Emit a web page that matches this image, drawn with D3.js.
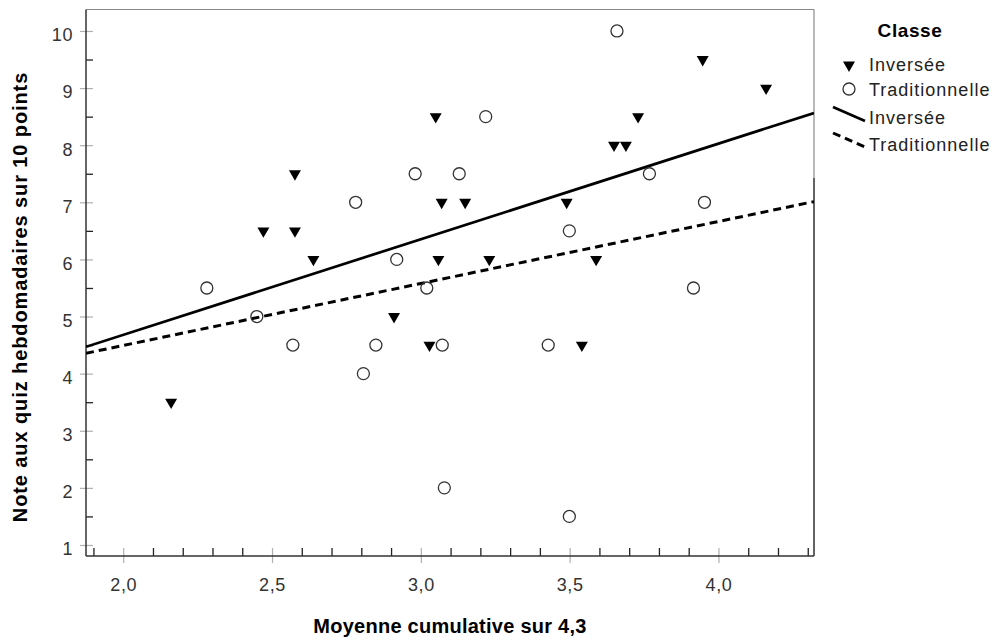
<!DOCTYPE html>
<html lang="fr">
    <head>
        <meta charset="utf-8">
        <title>Nuage de points</title>
        <style>
          body {
            margin: 0;
            background: white;
          }
          text {
            font-family: "Liberation Sans", Arial, sans-serif;
          }
          .tick-label {
            font-size: 18px;
            fill: #333;
            letter-spacing: 0.6px;
          }
          .axis-title {
            font-size: 20px;
            font-weight: bold;
            fill: black;
          }
          .legend text {
            font-size: 18px;
            fill: #222;
            letter-spacing: 1px;
          }
        </style>
        <script src="https://d3js.org/d3.v7.min.js"></script>
    </head>
    <body>
        <script type="text/javascript">
          var w=992;
          var h=640;

          // donnees
          var groupes=['Inversée','Traditionnelle'];

          var inverseeX=[2.161,2.471,2.577,2.577,2.639,2.910,3.029,3.050,3.070,3.059,3.149,3.230,3.490,3.541,3.589,3.649,3.689,3.730,3.947,4.160];
          var inverseeY=[3.5,6.5,7.5,6.5,6.0,5.0,4.5,8.5,7.0,6.0,7.0,6.0,7.0,4.5,6.0,8.0,8.0,8.5,9.5,9.0];

          var tradX=[2.281,2.449,2.570,2.781,2.807,2.849,2.919,2.981,3.020,3.072,3.079,3.129,3.218,3.428,3.499,3.499,3.659,3.768,3.916,3.953];
          var tradY=[5.5,5.0,4.5,7.0,4.0,4.5,6.0,7.5,5.5,4.5,2.0,7.5,8.5,4.5,6.5,1.5,10.0,7.5,5.5,7.0];

          // droites d'ajustement (ordonnee a l'origine, pente) : Inversée, Traditionnelle
          var intercepts=[1.331,2.322];
          var slopes=[1.674,1.0855];

          var xMajor=[2.0,2.5,3.0,3.5,4.0];
          var xMinor=[1.9,2.1,2.2,2.3,2.4,2.6,2.7,2.8,2.9,3.1,3.2,3.3,3.4,3.6,3.7,3.8,3.9,4.1,4.2,4.3];
          var yMajor=[1,2,3,4,5,6,7,8,9,10];
          var yMinor=[1.5,2.5,3.5,4.5,5.5,6.5,7.5,8.5,9.5];

          // ("top" est deja pris par window.top)
          var pLeft=86, pRight=814, pTop=9.5, pBottom=556;

          var x=d3.scaleLinear().domain([1.875,4.321]).range([pLeft,pRight]);
          var y=d3.scaleLinear().domain([0.807,10.376]).range([pBottom,pTop]);

          var svg=d3.select("body").append("svg")
            .attr('width',w)
            .attr('height',h);

          svg.append("defs").append("clipPath")
            .attr("id","plot-clip")
            .append("rect")
            .attr("x",pLeft)
            .attr("y",pTop)
            .attr("width",pRight-pLeft)
            .attr("height",pBottom-pTop);

          // cadre haut et droit (gris en haut, noir en bas a droite)
          svg.append("line")
            .attr("x1",pLeft).attr("x2",pRight)
            .attr("y1",pTop).attr("y2",pTop)
            .attr("stroke","#8a8a8a").attr("stroke-width",1.2);
          svg.append("line")
            .attr("x1",pRight).attr("x2",pRight)
            .attr("y1",pTop).attr("y2",178)
            .attr("stroke","#8a8a8a").attr("stroke-width",1.2);
          svg.append("line")
            .attr("x1",pRight).attr("x2",pRight)
            .attr("y1",178).attr("y2",pBottom)
            .attr("stroke","#222").attr("stroke-width",1.4);

          // axes : petites graduations noires, grandes graduations grises
          var yMinorAxis=d3.axisRight(y).tickValues(yMinor).tickSize(7).tickFormat("");
          var yMajorAxis=d3.axisLeft(y).tickValues(yMajor).tickSize(6).tickFormat(d3.format("d"));
          var xMinorAxis=d3.axisTop(x).tickValues(xMinor).tickSize(8).tickFormat("");
          var xMajorAxis=d3.axisBottom(x).tickValues(xMajor).tickSize(7)
            .tickFormat(function(d){ return d3.format(".1f")(d).replace('.',','); });

          var gy=svg.append("g").attr("transform","translate("+pLeft+",0)");
          gy.call(yMinorAxis);
          gy.selectAll(".tick line").attr("stroke","#222").attr("stroke-width",1.3);
          gy.select(".domain").remove();

          var gy2=svg.append("g").attr("transform","translate("+pLeft+",0)");
          gy2.call(yMajorAxis);
          gy2.select(".domain").remove();
          gy2.selectAll(".tick line")
            .attr("x1",7)
            .attr("stroke","#b0b0b0").attr("stroke-width",1.2);
          gy2.selectAll(".tick text")
            .attr("class","tick-label")
            .attr("x",-13)
            .attr("dy","0.55em")
            .attr("font-size",null).attr("font-family",null);

          var gx=svg.append("g").attr("transform","translate(0,"+pBottom+")");
          gx.call(xMinorAxis);
          gx.selectAll(".tick line").attr("stroke","#222").attr("stroke-width",1.3);
          gx.select(".domain").remove();

          var gx2=svg.append("g").attr("transform","translate(0,"+pBottom+")");
          gx2.call(xMajorAxis);
          gx2.select(".domain").remove();
          gx2.selectAll(".tick line")
            .attr("y1",-8)
            .attr("stroke","#b0b0b0").attr("stroke-width",1.2);
          gx2.selectAll(".tick text")
            .attr("class","tick-label")
            .attr("y",22)
            .attr("dy","0.71em")
            .attr("font-size",null).attr("font-family",null);

          // axes gauche et bas
          svg.append("line")
            .attr("x1",pLeft).attr("x2",pLeft)
            .attr("y1",pTop).attr("y2",pBottom)
            .attr("stroke","#333").attr("stroke-width",1.5);
          svg.append("line")
            .attr("x1",pLeft).attr("x2",pRight)
            .attr("y1",pBottom).attr("y2",pBottom)
            .attr("stroke","#333").attr("stroke-width",1.5);

          // droites de regression
          var plot=svg.append("g").attr("clip-path","url(#plot-clip)");
          var fits=groupes.map(function(g,i){
            return {name:g, a:intercepts[i], b:slopes[i]};
          });
          var dom=x.domain();
          plot.selectAll(".fit")
            .data(fits)
            .enter().append("line")
            .attr("class","fit")
            .attr("x1",x(dom[0]))
            .attr("y1",function(d){ return y(d.a+d.b*dom[0]); })
            .attr("x2",x(dom[1]))
            .attr("y2",function(d){ return y(d.a+d.b*dom[1]); })
            .attr("stroke","black")
            .attr("stroke-width",function(d,i){ return i==0 ? 2.7 : 3; })
            .attr("stroke-dasharray",function(d,i){ return i==0 ? null : "8,5"; });

          var tri=d3.symbol().type(d3.symbolTriangle).size(62);

          var ptsInv=inverseeX.map(function(v,i){ return {x:v, y:inverseeY[i]}; });
          var ptsTrad=tradX.map(function(v,i){ return {x:v, y:tradY[i]}; });

          svg.selectAll(".trad")
            .data(ptsTrad)
            .enter().append("circle")
            .attr("class","trad")
            .attr("cx",function(d){ return x(d.x); })
            .attr("cy",function(d){ return y(d.y); })
            .attr("r",6)
            .attr("fill","none")
            .attr("stroke","#333")
            .attr("stroke-width",1.3);

          svg.selectAll(".inv")
            .data(ptsInv)
            .enter().append("path")
            .attr("class","inv")
            .attr("d",tri)
            .attr("transform",function(d){ return "translate("+x(d.x)+","+y(d.y)+") rotate(180)"; })
            .attr("fill","black");

          // titres des axes
          svg.append("text")
            .attr("class","axis-title")
            .attr("x",450)
            .attr("y",633)
            .attr("text-anchor","middle")
            .style("letter-spacing","0.25px")
            .text("Moyenne cumulative sur 4,3");

          svg.append("text")
            .attr("class","axis-title")
            .attr("transform","translate(27,297) rotate(-90)")
            .attr("text-anchor","middle")
            .style("letter-spacing","0.9px")
            .text("Note aux quiz hebdomadaires sur 10 points");

          // legende
          var legend=svg.append("g").attr("class","legend");
          legend.append("text")
            .attr("x",910)
            .attr("y",37)
            .attr("text-anchor","middle")
            .style("font-size","19px")
            .style("font-weight","bold")
            .style("fill","black")
            .style("letter-spacing","0.6px")
            .text("Classe");

          legend.append("path")
            .attr("d",tri)
            .attr("transform","translate(849,65) rotate(180)")
            .attr("fill","black");
          legend.append("circle")
            .attr("cx",849).attr("cy",89).attr("r",6)
            .attr("fill","none").attr("stroke","#333").attr("stroke-width",1.3);
          legend.append("line")
            .attr("x1",833).attr("y1",107).attr("x2",865).attr("y2",121)
            .attr("stroke","black").attr("stroke-width",2.7);
          legend.append("line")
            .attr("x1",833).attr("y1",133).attr("x2",865).attr("y2",147)
            .attr("stroke","black").attr("stroke-width",3)
            .attr("stroke-dasharray","8,5");

          var labelsY=[65,90,118,145];
          var labels=[groupes[0],groupes[1],groupes[0],groupes[1]];
          legend.selectAll(".lab")
            .data(labels)
            .enter().append("text")
            .attr("class","lab")
            .attr("x",869)
            .attr("y",function(d,i){ return labelsY[i]; })
            .attr("dy","0.36em")
            .text(function(d){ return d; });
        </script>
    </body>
</html>
